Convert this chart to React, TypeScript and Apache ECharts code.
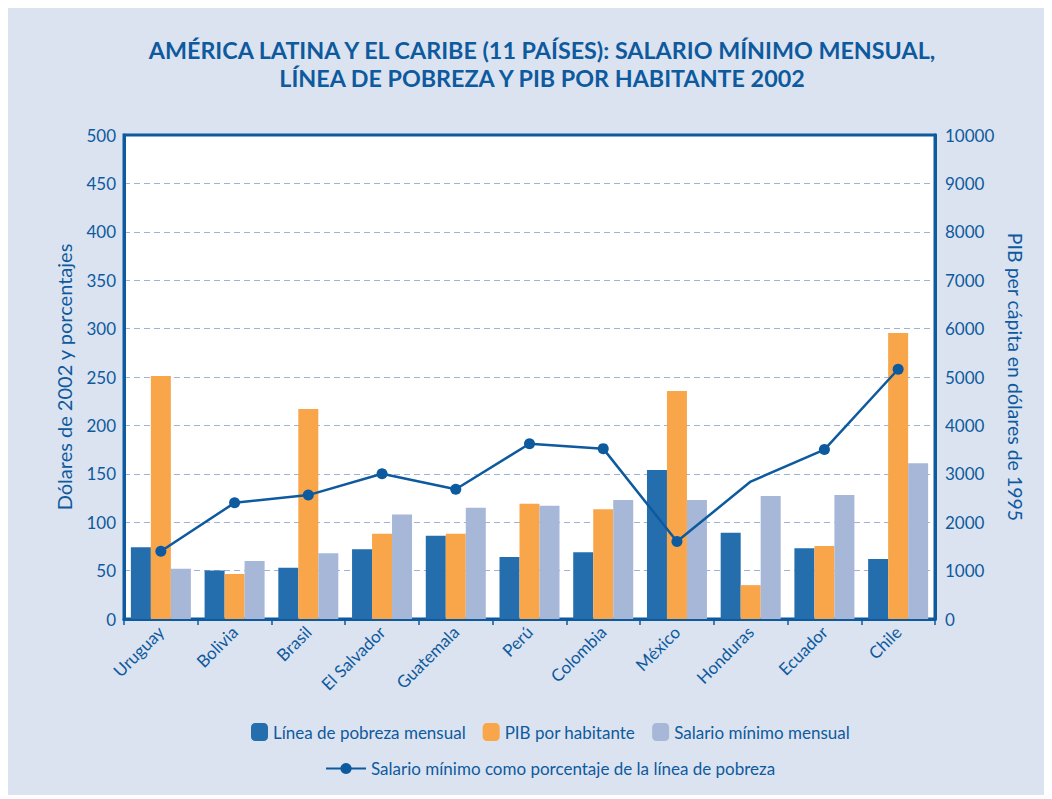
import React, { useEffect, useRef } from "react";
import * as echarts from "echarts";

const categories = ["Uruguay", "Bolivia", "Brasil", "El Salvador", "Guatemala", "Perú", "Colombia", "México", "Honduras", "Ecuador", "Chile"];
const lineaPobreza = [74, 50, 53, 72, 86, 64, 69, 154, 89, 73, 62];
const pibHabitante = [5020, 930, 4340, 1760, 1760, 2380, 2270, 4710, 700, 1510, 5910];
const salarioMinimo = [52, 60, 68, 108, 115, 117, 123, 123, 127, 128, 161];
const porcentaje = [70, 120, 128, 150, 134, 181, 176, 80, 142, 175, 258];
const noMarker = ["Honduras"];

const BLUE = "#0d5a9e";
const FONT = "Lato";

export default function App() {
  const ref = useRef<HTMLDivElement>(null);
  useEffect(() => {
    const chart = echarts.init(ref.current!, null, { renderer: "svg" });
    chart.setOption({
      animation: false,
      backgroundColor: "#dce3f0",
      textStyle: { fontFamily: FONT, color: BLUE },
      title: {
        text: "AMÉRICA LATINA Y EL CARIBE (11 PAÍSES): SALARIO MÍNIMO MENSUAL,\nLÍNEA DE POBREZA Y PIB POR HABITANTE 2002",
        left: 533,
        textAlign: "center",
        top: 24,
        textStyle: { fontFamily: FONT, fontWeight: "bold", fontSize: 23.3, color: BLUE, lineHeight: 28 },
      },
      grid: {
        left: 120,
        right: 113,
        top: 128,
        bottom: 176,
        show: true,
        backgroundColor: "#ffffff",
        borderColor: BLUE,
        borderWidth: 3,
      },
      legend: [
        {
          data: ["Línea de pobreza mensual", "PIB por habitante", "Salario mínimo mensual"],
          top: 711,
          left: 242,
          itemWidth: 17,
          itemHeight: 18,
          itemGap: 17,
          textStyle: { fontFamily: FONT, fontSize: 17, color: BLUE },
        },
        {
          data: ["Salario mínimo como porcentaje de la línea de pobreza"],
          top: 748,
          left: 316,
          itemWidth: 40,
          itemHeight: 14,
          textStyle: { fontFamily: FONT, fontSize: 17, color: BLUE },
        },
      ],
      xAxis: {
        type: "category",
        data: categories,
        axisLine: { lineStyle: { color: BLUE, width: 3 } },
        axisTick: { show: true, length: 6, lineStyle: { color: BLUE, width: 1.5 } },
        axisLabel: { rotate: 45, fontSize: 17, color: BLUE, fontFamily: FONT, margin: 10 },
      },
      yAxis: [
        {
          type: "value",
          min: 0,
          max: 500,
          interval: 50,
          name: "Dólares de 2002 y porcentajes",
          nameLocation: "middle",
          nameGap: 50,
          nameTextStyle: { fontSize: 20, color: BLUE, fontFamily: FONT },
          axisLine: { show: true, lineStyle: { color: BLUE, width: 3 } },
          axisTick: { show: false },
          axisLabel: { fontSize: 17, color: BLUE, fontFamily: FONT, margin: 8 },
          splitLine: {
            show: true,
            showMinLine: false,
            showMaxLine: false,
            lineStyle: { color: "#9fb2d8", type: [6, 4], width: 1.2 },
          },
        },
        {
          type: "value",
          min: 0,
          max: 10000,
          interval: 1000,
          name: "PIB per cápita en dólares de 1995",
          nameLocation: "middle",
          nameRotate: -90,
          nameGap: 68,
          nameTextStyle: { fontSize: 19.5, color: BLUE, fontFamily: FONT },
          axisLine: { show: true, lineStyle: { color: BLUE, width: 3 } },
          axisTick: { show: false },
          axisLabel: { fontSize: 17, color: BLUE, fontFamily: FONT, margin: 10, formatter: (v: number) => String(v) },
          splitLine: { show: false },
        },
      ],
      series: [
        {
          name: "Línea de pobreza mensual",
          type: "bar",
          data: lineaPobreza,
          barWidth: 20,
          barGap: "0%",
          itemStyle: { color: "#246ead" },
        },
        {
          name: "PIB por habitante",
          type: "bar",
          yAxisIndex: 1,
          data: pibHabitante,
          barWidth: 20,
          barGap: "0%",
          itemStyle: { color: "#f9a54a" },
        },
        {
          name: "Salario mínimo mensual",
          type: "bar",
          data: salarioMinimo,
          barWidth: 20,
          barGap: "0%",
          itemStyle: { color: "#a6b7d8" },
        },
        {
          name: "Salario mínimo como porcentaje de la línea de pobreza",
          type: "line",
          data: porcentaje.map((v, i) =>
            noMarker.includes(categories[i]) ? { value: v, symbol: "none" } : v
          ),
          symbol: "circle",
          symbolSize: 11,
          lineStyle: { color: BLUE, width: 2.5 },
          itemStyle: { color: BLUE },
          z: 5,
        },
      ],
    });
    return () => chart.dispose();
  }, []);
  return <div ref={ref} style={{ width: 1044, height: 788, marginLeft: -4, marginTop: -1 }} />;
}
